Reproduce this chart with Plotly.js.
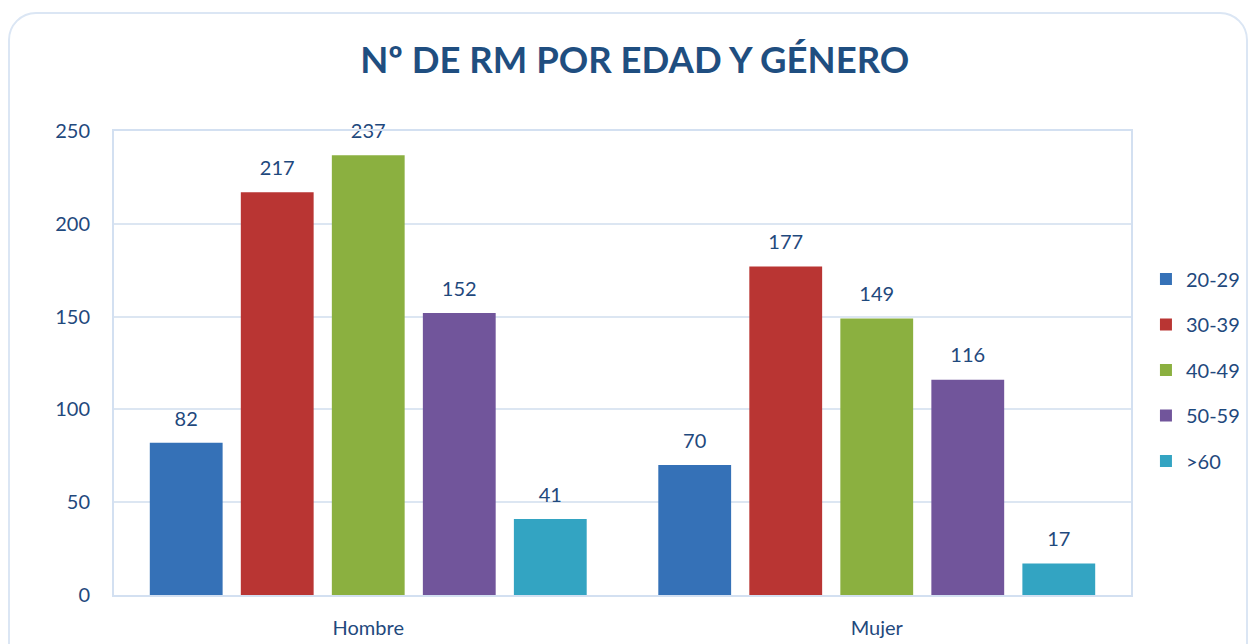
<!DOCTYPE html>
<html>
<head>
<meta charset="utf-8">
<script src="https://cdn.plot.ly/plotly-3.0.1.min.js"></script>
<style>
  html, body { margin: 0; padding: 0; background: #ffffff; overflow: hidden; }
  #card { position: absolute; left: 8px; top: 12px; width: 1240px; height: 680px;
          border: 2px solid #dbe6f4; border-radius: 28px; box-sizing: border-box; }
  #chart { position: absolute; left: 0; top: 0; width: 1249px; height: 644px; }
</style>
</head>
<body>
<div id="card"></div>
<div id="chart"></div>
<script>
const categories = ["Hombre", "Mujer"];
const seriesNames = ["20-29", "30-39", "40-49", "50-59", ">60"];
const v2029 = [82, 70];
const v3039 = [217, 177];
const v4049 = [237, 149];
const v5059 = [152, 116];
const v60 = [41, 17];
const seriesValues = [v2029, v3039, v4049, v5059, v60];
const colors = ["#3571b7", "#b93533", "#8bb040", "#71559b", "#33a4c2"];
const yTicks = [0, 50, 100, 150, 200, 250];

const textColor = "#1f497d";
const fontFam = "Lato, 'Open Sans', sans-serif";

const barTraces = seriesNames.map((name, i) => ({
  type: "bar",
  name: name,
  x: categories,
  y: seriesValues[i],
  legendgroup: name,
  marker: { color: colors[i], line: { width: 0 } },
  hoverinfo: "x+y+name"
}));

const labelTraces = seriesNames.map((name, i) => ({
  type: "scatter",
  mode: "markers+text",
  name: name,
  x: categories,
  y: seriesValues[i],
  text: seriesValues[i].map(String),
  textposition: "top center",
  textfont: { color: textColor, size: 20, family: fontFam },
  marker: { size: 18, opacity: 0 },
  cliponaxis: false,
  showlegend: false,
  hoverinfo: "skip"
}));

const layout = {
  width: 1249, height: 644,
  paper_bgcolor: "rgba(0,0,0,0)",
  plot_bgcolor: "rgba(0,0,0,0)",
  margin: { l: 114, r: 118, t: 131, b: 49, autoexpand: false },
  font: { family: fontFam, color: textColor, size: 20 },
  title: {
    text: "<b>Nº DE RM POR EDAD Y GÉNERO</b>",
    font: { family: fontFam, size: 36.5, color: "#1f4e80" },
    x: 0.512, xanchor: "center", xref: "paper",
    y: 0.907, yanchor: "middle", yref: "container"
  },
  barmode: "group",
  bargap: 0.105,
  bargroupgap: 0.2,
  scattermode: "group",
  scattergap: 0.105,
  xaxis: {
    type: "category",
    showline: true, linecolor: "#d3e0f1", linewidth: 2, mirror: true,
    showgrid: false, ticks: "", ticklen: 0,
    ticklabelstandoff: 14,
    tickfont: { size: 20, color: textColor, family: fontFam },
    zeroline: false
  },
  yaxis: {
    range: [0, 250],
    tickvals: yTicks,
    showline: true, linecolor: "#d3e0f1", linewidth: 2, mirror: true,
    showgrid: true, gridcolor: "#dce6f2", gridwidth: 2,
    zeroline: false,
    ticks: "", ticklabelstandoff: 18,
    tickfont: { size: 20, color: textColor, family: fontFam }
  },
  legend: {
    x: 1.0147, xanchor: "left",
    y: 0.485, yanchor: "middle",
    font: { size: 20, color: textColor, family: fontFam },
    tracegroupgap: 16.5,
    traceorder: "grouped",
    bgcolor: "rgba(0,0,0,0)"
  },
  showlegend: true
};

Plotly.newPlot("chart", barTraces.concat(labelTraces), layout, { displayModeBar: false, responsive: false });
</script>
</body>
</html>
